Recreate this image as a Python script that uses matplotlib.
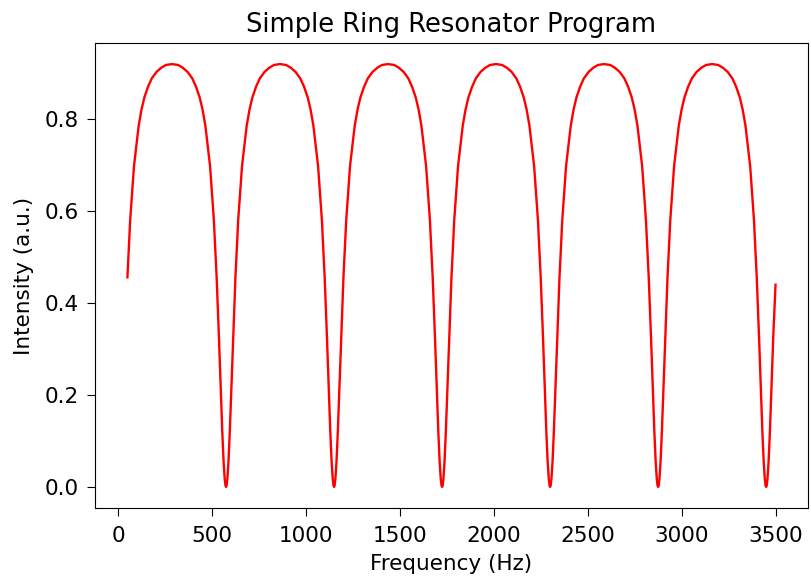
import matplotlib
matplotlib.use("Agg")
import matplotlib.pyplot as plt

# Frequency samples (Hz)
frequency = [
    50, 65, 85, 110, 125, 140, 160, 180, 205, 230, 255, 287,
    320, 345, 370, 395, 415, 435, 450, 465, 490, 510, 525, 537, 547, 555, 562, 568, 572, 575,
    578, 582, 588, 595, 603, 613, 625, 640, 660, 685, 700, 715, 735, 755, 780, 805, 830, 862,
    895, 920, 945, 970, 990, 1010, 1025, 1040, 1065, 1085, 1100, 1112, 1122, 1130, 1137, 1143, 1147, 1150,
    1153, 1157, 1163, 1170, 1178, 1188, 1200, 1215, 1235, 1260, 1275, 1290, 1310, 1330, 1355, 1380, 1405, 1437,
    1470, 1495, 1520, 1545, 1565, 1585, 1600, 1615, 1640, 1660, 1675, 1687, 1697, 1705, 1712, 1718, 1722, 1725,
    1728, 1732, 1738, 1745, 1753, 1763, 1775, 1790, 1810, 1835, 1850, 1865, 1885, 1905, 1930, 1955, 1980, 2012,
    2045, 2070, 2095, 2120, 2140, 2160, 2175, 2190, 2215, 2235, 2250, 2262, 2272, 2280, 2287, 2293, 2297, 2300,
    2303, 2307, 2313, 2320, 2328, 2338, 2350, 2365, 2385, 2410, 2425, 2440, 2460, 2480, 2505, 2530, 2555, 2587,
    2620, 2645, 2670, 2695, 2715, 2735, 2750, 2765, 2790, 2810, 2825, 2837, 2847, 2855, 2862, 2868, 2872, 2875,
    2878, 2882, 2888, 2895, 2903, 2913, 2925, 2940, 2960, 2985, 3000, 3015, 3035, 3055, 3080, 3105, 3130, 3162,
    3195, 3220, 3245, 3270, 3290, 3310, 3325, 3340, 3365, 3385, 3400, 3412, 3422, 3430, 3437, 3443, 3447, 3450,
    3453, 3457, 3463, 3470, 3478, 3488, 3500,
]

# Intensity values (a.u.) read at those frequencies
intensity = [
    0.456, 0.582, 0.698, 0.786, 0.821, 0.847, 0.871, 0.889, 0.903, 0.912, 0.918, 0.920,
    0.918, 0.912, 0.903, 0.889, 0.871, 0.847, 0.821, 0.786, 0.698, 0.582, 0.456, 0.328, 0.211, 0.120, 0.055, 0.017, 0.003, 0.000,
    0.003, 0.017, 0.055, 0.120, 0.211, 0.328, 0.456, 0.582, 0.698, 0.786, 0.821, 0.847, 0.871, 0.889, 0.903, 0.912, 0.918, 0.920,
    0.918, 0.912, 0.903, 0.889, 0.871, 0.847, 0.821, 0.786, 0.698, 0.582, 0.456, 0.328, 0.211, 0.120, 0.055, 0.017, 0.003, 0.000,
    0.003, 0.017, 0.055, 0.120, 0.211, 0.328, 0.456, 0.582, 0.698, 0.786, 0.821, 0.847, 0.871, 0.889, 0.903, 0.912, 0.918, 0.920,
    0.918, 0.912, 0.903, 0.889, 0.871, 0.847, 0.821, 0.786, 0.698, 0.582, 0.456, 0.328, 0.211, 0.120, 0.055, 0.017, 0.003, 0.000,
    0.003, 0.017, 0.055, 0.120, 0.211, 0.328, 0.456, 0.582, 0.698, 0.786, 0.821, 0.847, 0.871, 0.889, 0.903, 0.912, 0.918, 0.920,
    0.918, 0.912, 0.903, 0.889, 0.871, 0.847, 0.821, 0.786, 0.698, 0.582, 0.456, 0.328, 0.211, 0.120, 0.055, 0.017, 0.003, 0.000,
    0.003, 0.017, 0.055, 0.120, 0.211, 0.328, 0.456, 0.582, 0.698, 0.786, 0.821, 0.847, 0.871, 0.889, 0.903, 0.912, 0.918, 0.920,
    0.918, 0.912, 0.903, 0.889, 0.871, 0.847, 0.821, 0.786, 0.698, 0.582, 0.456, 0.328, 0.211, 0.120, 0.055, 0.017, 0.003, 0.000,
    0.003, 0.017, 0.055, 0.120, 0.211, 0.328, 0.456, 0.582, 0.698, 0.786, 0.821, 0.847, 0.871, 0.889, 0.903, 0.912, 0.918, 0.920,
    0.918, 0.912, 0.903, 0.889, 0.871, 0.847, 0.821, 0.786, 0.698, 0.582, 0.456, 0.328, 0.211, 0.120, 0.055, 0.017, 0.003, 0.000,
    0.003, 0.017, 0.055, 0.120, 0.211, 0.328, 0.440,
]

title = "Simple Ring Resonator Program"
xlabel = "Frequency (Hz)"
ylabel = "Intensity (a.u.)"
xticks = [0, 500, 1000, 1500, 2000, 2500, 3000, 3500]
yticks = [0.0, 0.2, 0.4, 0.6, 0.8]

fig = plt.figure(figsize=(8.12, 5.8), dpi=100)
ax = fig.add_axes([0.117, 0.124, 0.878, 0.802])
ax.plot(frequency, intensity, color="red", linewidth=1.7)
ax.set_xticks(xticks)
ax.set_yticks(yticks)
ax.tick_params(labelsize=15.5, length=5.5, pad=6)
ax.tick_params(axis="x", pad=7.5)
ax.set_xlabel(xlabel, fontsize=15.5, labelpad=6)
ax.set_ylabel(ylabel, fontsize=15.5, labelpad=8)
ax.set_title(title, fontsize=18.5, pad=8)
fig.savefig("out.png", dpi=100)
